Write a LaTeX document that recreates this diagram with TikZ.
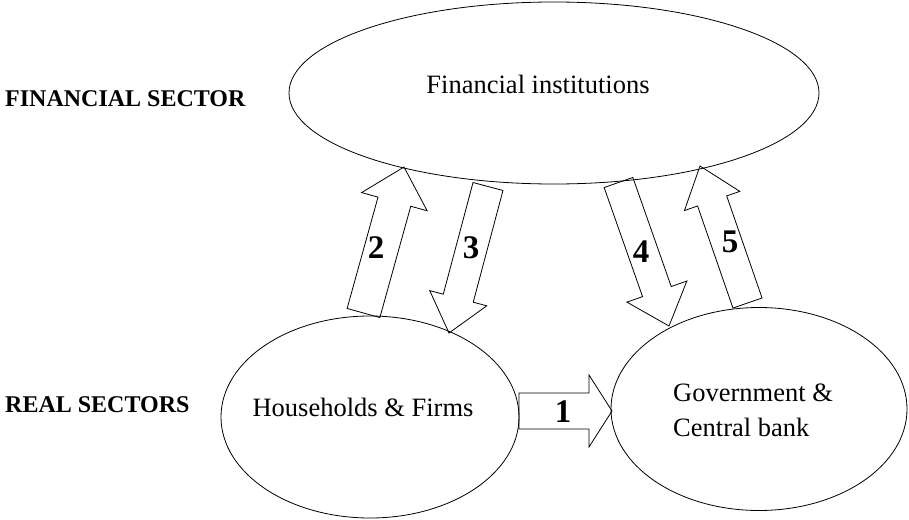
\documentclass[tikz,border=0pt]{standalone}
\usepackage{fontspec}
\setmainfont{Liberation Serif}
\usetikzlibrary{shapes.geometric,calc}
\tikzset{
  oval/.style={ellipse, draw, line width=0.8pt, inner sep=0pt},
  blk/.style={draw, line width=0.8pt, line join=miter},
  body/.style={font=\fontsize{26.5}{35}\selectfont, inner sep=0pt},
  sector/.style={font=\fontsize{24}{28}\selectfont\bfseries, anchor=west, inner sep=0pt},
  num/.style={font=\fontsize{33}{33}\selectfont\bfseries, inner sep=0pt},
}
% tail, tip, shaft half-width, head half-width, head length
\newcommand\blockarrow[5]{%
  \coordinate (hb) at ($(#2)!#5!(#1)$);
  \draw[blk] ($(#1)!#3!90:(#2)$) -- ($(hb)!#3!-90:(#1)$) -- ($(hb)!#4!-90:(#1)$)
    -- (#2) -- ($(hb)!#4!90:(#1)$) -- ($(hb)!#3!90:(#1)$) -- ($(#1)!#3!-90:(#2)$) -- cycle;}
\begin{document}
\begin{tikzpicture}[x=1pt,y=-1pt]
\useasboundingbox (0,0) rectangle (909,519);
% ellipses
\node[oval, minimum width=530pt, minimum height=182pt] (fin) at (554,93) {};
\node[oval, minimum width=298pt, minimum height=202pt] (hf) at (370,417) {};
\node[oval, minimum width=296pt, minimum height=203pt] (gov) at (759,409) {};
% texts
\node[body] (fintxt) at (538,84) {Financial institutions};
\node[body] (hftxt) at (363,407) {Households \& Firms};
\node[body, anchor=west, align=left] (govtxt) at (673,410) {Government \&\\Central bank};
\node[sector] (fs) at (5,99) {FINANCIAL SECTOR};
\node[sector] (rs) at (5,405) {REAL SECTORS};
% arrow end points
\coordinate (a1s) at (519,411); \coordinate (a1e) at (612,411);
\coordinate (a2s) at (363.5,313); \coordinate (a2e) at (404,167);
\coordinate (a3s) at (488,186.5); \coordinate (a3e) at (449,333);
\coordinate (a4s) at (618.5,182.5); \coordinate (a4e) at (669,326);
\coordinate (a5s) at (747.5,303); \coordinate (a5e) at (700,166);
\blockarrow{a1s}{a1e}{18pt}{36pt}{23pt}
\blockarrow{a2s}{a2e}{17pt}{34pt}{36pt}
\blockarrow{a3s}{a3e}{15.5pt}{29.5pt}{36pt}
\blockarrow{a4s}{a4e}{15.2pt}{31.8pt}{36.5pt}
\blockarrow{a5s}{a5e}{15.4pt}{29.3pt}{37pt}
% numbers
\node[num] (n1) at (563,412) {1};
\node[num] (n2) at (376,248) {2};
\node[num] (n3) at (471,248) {3};
\node[num] (n4) at (641,252) {4};
\node[num] (n5) at (730,242) {5};
\end{tikzpicture}
\end{document}
